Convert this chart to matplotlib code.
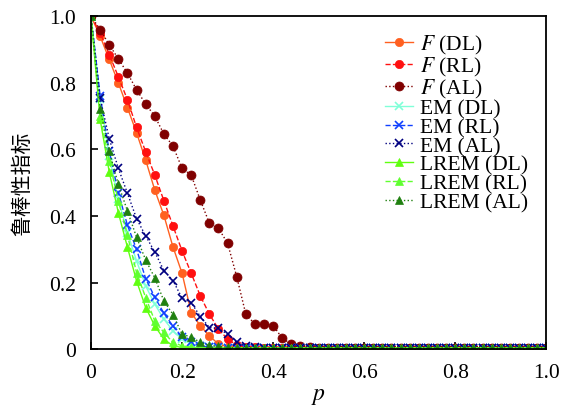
import matplotlib
matplotlib.use('Agg')
import matplotlib.pyplot as plt

plt.rcParams['font.family'] = ['Liberation Serif', 'Noto Sans CJK SC']
plt.rcParams['mathtext.fontset'] = 'stix'

# p 采样点
p = [0.00, 0.02, 0.04, 0.06, 0.08, 0.10, 0.12, 0.14, 0.16, 0.18,
     0.20, 0.22, 0.24, 0.26, 0.28, 0.30, 0.32, 0.34, 0.36, 0.38,
     0.40, 0.42, 0.44, 0.46, 0.48, 0.50, 0.52, 0.54, 0.56, 0.58,
     0.60, 0.62, 0.64, 0.66, 0.68, 0.70, 0.72, 0.74, 0.76, 0.78,
     0.80, 0.82, 0.84, 0.86, 0.88, 0.90, 0.92, 0.94, 0.96, 0.98, 1.00]

F_DL = [1.0, 0.94, 0.87, 0.80, 0.725, 0.65, 0.568, 0.478, 0.402, 0.307,
        0.228, 0.11, 0.07, 0.04, 0.015, 0.007, 0.005, 0.004, 0.004, 0.004,
        0.004, 0.004, 0.004, 0.004, 0.004, 0.004, 0.004, 0.004, 0.004, 0.004,
        0.004, 0.004, 0.004, 0.004, 0.004, 0.004, 0.004, 0.004, 0.004, 0.004,
        0.004, 0.004, 0.004, 0.004, 0.004, 0.004, 0.004, 0.004, 0.004, 0.004, 0.004]
F_RL = [1.0, 0.95, 0.885, 0.818, 0.749, 0.666, 0.593, 0.523, 0.446, 0.37,
        0.295, 0.228, 0.16, 0.105, 0.06, 0.03, 0.012, 0.006, 0.005, 0.004,
        0.004, 0.004, 0.004, 0.004, 0.004, 0.004, 0.004, 0.004, 0.004, 0.004,
        0.004, 0.004, 0.004, 0.004, 0.004, 0.004, 0.004, 0.004, 0.004, 0.004,
        0.004, 0.004, 0.004, 0.004, 0.004, 0.004, 0.004, 0.004, 0.004, 0.004, 0.004]
F_AL = [1.0, 0.96, 0.914, 0.872, 0.829, 0.779, 0.736, 0.70, 0.646, 0.61,
        0.543, 0.523, 0.448, 0.378, 0.363, 0.318, 0.218, 0.105, 0.075, 0.075,
        0.071, 0.033, 0.015, 0.008, 0.005, 0.004, 0.004, 0.004, 0.004, 0.004,
        0.004, 0.004, 0.004, 0.004, 0.004, 0.004, 0.004, 0.004, 0.004, 0.004,
        0.004, 0.004, 0.004, 0.004, 0.004, 0.004, 0.004, 0.004, 0.004, 0.004, 0.004]
EM_DL = [1.0, 0.75, 0.58, 0.45, 0.35, 0.265, 0.19, 0.135, 0.09, 0.055,
         0.03, 0.015, 0.008, 0.005, 0.004, 0.004, 0.004, 0.004, 0.004, 0.004,
         0.004, 0.004, 0.004, 0.004, 0.004, 0.004, 0.004, 0.004, 0.004, 0.004,
         0.004, 0.004, 0.004, 0.004, 0.004, 0.004, 0.004, 0.004, 0.004, 0.004,
         0.004, 0.004, 0.004, 0.004, 0.004, 0.004, 0.004, 0.004, 0.004, 0.004, 0.004]
EM_RL = [1.0, 0.76, 0.595, 0.47, 0.372, 0.30, 0.212, 0.156, 0.108, 0.069,
         0.037, 0.02, 0.01, 0.006, 0.005, 0.004, 0.004, 0.004, 0.004, 0.004,
         0.004, 0.004, 0.004, 0.004, 0.004, 0.004, 0.004, 0.004, 0.004, 0.004,
         0.004, 0.004, 0.004, 0.004, 0.004, 0.004, 0.004, 0.004, 0.004, 0.004,
         0.004, 0.004, 0.004, 0.004, 0.004, 0.004, 0.004, 0.004, 0.004, 0.004, 0.004]
EM_AL = [1.0, 0.754, 0.632, 0.543, 0.468, 0.392, 0.34, 0.292, 0.236, 0.206,
         0.153, 0.14, 0.098, 0.065, 0.062, 0.045, 0.02, 0.008, 0.005, 0.004,
         0.004, 0.004, 0.004, 0.004, 0.004, 0.004, 0.004, 0.004, 0.004, 0.004,
         0.004, 0.004, 0.004, 0.004, 0.004, 0.004, 0.004, 0.004, 0.004, 0.004,
         0.004, 0.004, 0.004, 0.004, 0.004, 0.004, 0.004, 0.004, 0.004, 0.004, 0.004]
LREM_DL = [1.0, 0.69, 0.532, 0.41, 0.306, 0.205, 0.125, 0.07, 0.03, 0.01,
           0.005, 0.004, 0.004, 0.004, 0.004, 0.004, 0.004, 0.004, 0.004, 0.004,
           0.004, 0.004, 0.004, 0.004, 0.004, 0.004, 0.004, 0.004, 0.004, 0.004,
           0.004, 0.004, 0.004, 0.004, 0.004, 0.004, 0.004, 0.004, 0.004, 0.004,
           0.004, 0.004, 0.004, 0.004, 0.004, 0.004, 0.004, 0.004, 0.004, 0.004, 0.004]
LREM_RL = [1.0, 0.70, 0.565, 0.445, 0.342, 0.23, 0.155, 0.085, 0.05, 0.02,
           0.01, 0.006, 0.004, 0.004, 0.004, 0.004, 0.004, 0.004, 0.004, 0.004,
           0.004, 0.004, 0.004, 0.004, 0.004, 0.004, 0.004, 0.004, 0.004, 0.004,
           0.004, 0.004, 0.004, 0.004, 0.004, 0.004, 0.004, 0.004, 0.004, 0.004,
           0.004, 0.004, 0.004, 0.004, 0.004, 0.004, 0.004, 0.004, 0.004, 0.004, 0.004]
LREM_AL = [1.0, 0.72, 0.594, 0.495, 0.415, 0.336, 0.268, 0.214, 0.145, 0.104,
           0.044, 0.037, 0.02, 0.012, 0.008, 0.005, 0.004, 0.004, 0.004, 0.004,
           0.004, 0.004, 0.004, 0.004, 0.004, 0.004, 0.004, 0.004, 0.004, 0.004,
           0.004, 0.004, 0.004, 0.004, 0.004, 0.004, 0.004, 0.004, 0.004, 0.004,
           0.004, 0.004, 0.004, 0.004, 0.004, 0.004, 0.004, 0.004, 0.004, 0.004, 0.004]

labels = ['$F$ (DL)', '$F$ (RL)', '$F$ (AL)',
          'EM (DL)', 'EM (RL)', 'EM (AL)',
          'LREM (DL)', 'LREM (RL)', 'LREM (AL)']

fig = plt.figure(figsize=(5.69, 4.10), dpi=100)
ax = fig.add_axes([0.16, 0.146, 0.8, 0.812])

# 样式: (颜色, 线型, 标记, 标记大小)
estilos = [
    ('#ff6020', '-', 'o', 6),
    ('#ff1010', '--', 'o', 6),
    ('#800000', ':', 'o', 6.5),
    ('#80ffd8', '-', 'x', 5.5),
    ('#1040ff', '--', 'x', 5.5),
    ('#000080', ':', 'x', 5.5),
    ('#60ff10', '-', '^', 6),
    ('#60ff30', '--', '^', 6),
    ('#208010', ':', '^', 6),
]
series = [F_DL, F_RL, F_AL, EM_DL, EM_RL, EM_AL, LREM_DL, LREM_RL, LREM_AL]

for y, lab, (c, ls, m, ms) in zip(series, labels, estilos):
    ax.plot(p, y, color=c, linestyle=ls, marker=m, markersize=ms,
            linewidth=1, markeredgewidth=1.2 if m == 'x' else 0.5, label=lab)

ax.set_xlim(0, 1.0)
ax.set_ylim(0, 1.0)
ax.set_xticks([0, 0.2, 0.4, 0.6, 0.8, 1.0])
ax.set_xticklabels(['0', '0.2', '0.4', '0.6', '0.8', '1.0'])
ax.set_yticks([0, 0.2, 0.4, 0.6, 0.8, 1.0])
ax.set_yticklabels(['0', '0.2', '0.4', '0.6', '0.8', '1.0'])
ax.tick_params(direction='in', length=5, width=1.2, labelsize=15.5)
ax.tick_params(axis='x', pad=10)
ax.tick_params(axis='y', pad=11)
for s in ax.spines.values():
    s.set_linewidth(1.3)

ax.set_xlabel('$p$', fontsize=17, labelpad=2)
ax.set_ylabel('鲁棒性指标', fontsize=15, family=['Noto Sans CJK SC'])
ax.yaxis.set_label_coords(-0.127, 0.5)

ax.legend(loc='upper left', bbox_to_anchor=(0.627, 0.975), frameon=False,
          fontsize=15.5, handlelength=1.3, handletextpad=0.33,
          labelspacing=-0.06, borderaxespad=0)

fig.savefig('out.png', dpi=100)
